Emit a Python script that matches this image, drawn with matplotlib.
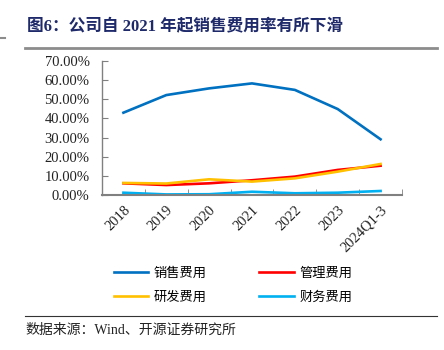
import matplotlib
matplotlib.use("Agg")
import matplotlib.pyplot as plt
from matplotlib.ticker import FuncFormatter, FixedLocator
import numpy as np

periods = ["2018", "2019", "2020", "2021", "2022", "2023", "2024Q1-3"]
selling = [43.0, 52.2, 55.7, 58.3, 54.9, 44.9, 29.1]
admin = [6.1, 5.2, 6.1, 7.7, 9.6, 13.1, 15.3]
rnd = [6.3, 6.0, 8.2, 7.0, 8.7, 12.2, 16.2]
finance = [1.2, 0.3, 0.4, 1.7, 0.9, 1.2, 2.1]

series = [
    ("销售费用", selling, "#0070C0"),
    ("管理费用", admin, "#FF0000"),
    ("研发费用", rnd, "#FFC000"),
    ("财务费用", finance, "#00B0F0"),
]

SERIF = ["Liberation Serif", "Noto Sans CJK SC"]
CJK = ["Noto Sans CJK SC", "DejaVu Sans"]

fig = plt.figure(figsize=(4.44, 3.5), dpi=100)

# title and rules
fig.text(27 / 444, 1 - 26 / 350, "图6：公司自 2021 年起销售费用率有所下滑", family=SERIF,
         fontsize=12, fontweight="bold", color="#1F2A6B", va="center", ha="left")
fig.add_artist(plt.Line2D([25 / 444, 437 / 444], [1 - 48 / 350] * 2, color="#8C8C8C", lw=2))
fig.add_artist(plt.Line2D([0, 5 / 444], [1 - 38 / 350] * 2, color="#8C8C8C", lw=1.5))
fig.add_artist(plt.Line2D([25 / 444, 437 / 444], [1 - 316 / 350] * 2, color="#333333", lw=0.8))
fig.text(25 / 444, 1 - 330 / 350, "数据来源：Wind、开源证券研究所", family=SERIF,
         fontsize=10, color="#222222", va="center", ha="left")

ax = fig.add_axes([102 / 444, 1 - 195 / 350, 300 / 444, 134 / 350])
x = np.arange(len(periods))
handles = {}
for name, vals, color in series:
    h, = ax.plot(x, np.array(vals) / 100, color=color, lw=1.9, label=name)
    handles[name] = h

ax.set_xlim(-0.5, len(periods) - 0.5)
ax.set_ylim(0, 0.7)
ax.set_yticks(np.arange(0, 0.71, 0.1))
ax.yaxis.set_major_formatter(FuncFormatter(lambda v, p: f"{v * 100:.2f}%"))
ax.set_xticks(x)
ax.set_xticklabels(periods, rotation=45, ha="right", rotation_mode="anchor", family=SERIF, fontsize=10.5)
ax.xaxis.set_minor_locator(FixedLocator(np.arange(-0.5, len(periods), 1.0)))
for lab in ax.get_yticklabels():
    lab.set_family(SERIF)
    lab.set_fontsize(10.5)

ax.tick_params(axis="x", which="major", length=0, pad=6)
ax.tick_params(axis="x", which="minor", direction="in", length=4, color="#808080")
ax.tick_params(axis="y", direction="in", length=4, color="#808080", pad=9, labelcolor="#222222")
ax.tick_params(axis="x", labelcolor="#222222")
for s in ["top", "right"]:
    ax.spines[s].set_visible(False)
for s in ["left", "bottom"]:
    ax.spines[s].set_color("#808080")
ax.spines["left"].set_linewidth(1.0)
ax.spines["bottom"].set_linewidth(1.5)

# legend fills column-wise: put rows as 销售/管理, 研发/财务
order = ["销售费用", "研发费用", "管理费用", "财务费用"]
fig.legend(handles=[handles[n] for n in order], labels=order, ncol=2, loc="center",
           bbox_to_anchor=(0.525, 1 - 285 / 350), frameon=False,
           prop={"family": CJK, "size": 9.5}, handlelength=2.6, columnspacing=4.0,
           handletextpad=0.4, labelspacing=0.85)

fig.savefig("out.png", dpi=100)
